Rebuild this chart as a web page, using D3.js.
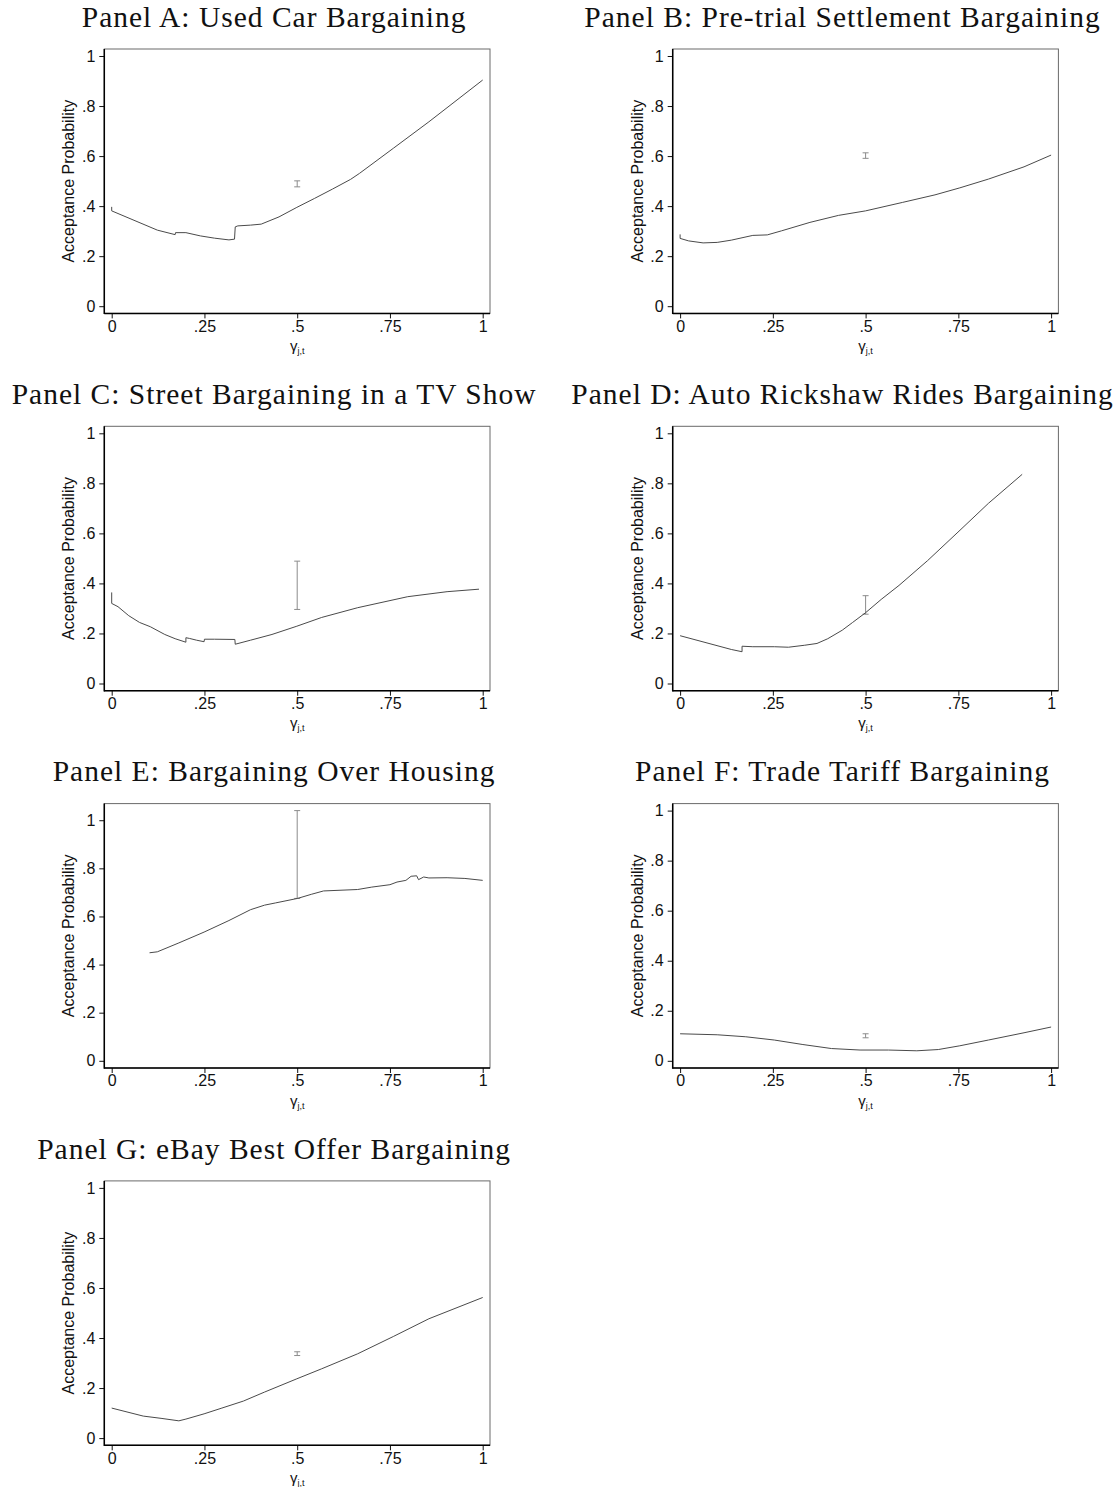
<!DOCTYPE html>
<html>
<head>
<meta charset="utf-8">
<script src="https://cdn.jsdelivr.net/npm/d3@7"></script>
<style>
  body { margin: 0; background: #fff; }
  svg { display: block; }
</style>
</head>
<body>
<div id="chart"></div>
<script>
// panel titles
const titles = [
    "Panel A: Used Car Bargaining",
    "Panel B: Pre-trial Settlement Bargaining",
    "Panel C: Street Bargaining in a TV Show",
    "Panel D: Auto Rickshaw Rides Bargaining",
    "Panel E: Bargaining Over Housing",
    "Panel F: Trade Tariff Bargaining",
    "Panel G: eBay Best Offer Bargaining"
];

const xTicks = [0, 0.25, 0.5, 0.75, 1];
const xTickLabels = ["0", ".25", ".5", ".75", "1"];
const yTicks = [0, 0.2, 0.4, 0.6, 0.8, 1];
const yTickLabels = ["0", ".2", ".4", ".6", ".8", "1"];

// observed acceptance rate at gamma = .5 (confidence interval)
const errX = [0.5, 0.5, 0.5, 0.5, 0.5, 0.5, 0.5];
const errLow = [0.477, 0.591, 0.296, 0.277, 0.675, 0.092, 0.330];
const errHigh = [0.501, 0.613, 0.489, 0.351, 1.040, 0.108, 0.345];

// predicted acceptance probability curves [gamma, prob]
const curveA = [[0,0.397],[0,0.381],[0.123,0.304],[0.171,0.286],[0.172,0.294],[0.2,0.294],
    [0.239,0.281],[0.277,0.272],[0.316,0.265],[0.331,0.268],[0.333,0.317],[0.34,0.321],
    [0.374,0.324],[0.403,0.328],[0.451,0.357],[0.499,0.395],[0.547,0.431],[0.595,0.468],
    [0.644,0.507],[0.668,0.531],[0.759,0.631],[0.855,0.737],[1,0.904]];
const curveB = [[0,0.287],[0,0.271],[0.023,0.261],[0.062,0.253],[0.1,0.255],[0.138,0.264],
    [0.196,0.283],[0.235,0.285],[0.273,0.301],[0.35,0.335],[0.427,0.363],[0.5,0.381],
    [0.6,0.415],[0.687,0.445],[0.754,0.473],[0.831,0.508],[0.927,0.557],[1,0.604]];
const curveC = [[0,0.364],[0,0.32],[0.017,0.307],[0.046,0.271],[0.075,0.244],[0.104,0.227],
    [0.143,0.196],[0.171,0.179],[0.2,0.165],[0.2,0.183],[0.21,0.18],[0.229,0.173],
    [0.249,0.167],[0.25,0.177],[0.277,0.177],[0.332,0.176],[0.333,0.157],[0.374,0.173],
    [0.432,0.196],[0.499,0.229],[0.566,0.264],[0.663,0.303],[0.798,0.347],[0.904,0.367],
    [0.99,0.377]];
const curveD = [[0,0.191],[0.138,0.136],[0.167,0.127],[0.167,0.149],[0.196,0.147],[0.254,0.147],
    [0.292,0.145],[0.336,0.153],[0.369,0.16],[0.398,0.179],[0.437,0.213],[0.465,0.244],
    [0.5,0.283],[0.542,0.336],[0.59,0.392],[0.667,0.491],[0.749,0.605],[0.831,0.72],
    [0.922,0.836]];
const curveE = [[0.102,0.449],[0.123,0.453],[0.181,0.49],[0.249,0.535],[0.316,0.583],
    [0.374,0.628],[0.412,0.647],[0.441,0.656],[0.501,0.675],[0.538,0.692],[0.571,0.706],
    [0.663,0.712],[0.701,0.722],[0.75,0.732],[0.769,0.743],[0.793,0.75],[0.807,0.767],
    [0.822,0.769],[0.827,0.753],[0.841,0.764],[0.855,0.76],[0.904,0.761],[0.952,0.758],
    [1,0.75]];
const curveF = [[0,0.108],[0.1,0.104],[0.177,0.096],[0.254,0.083],[0.331,0.065],[0.408,0.049],
    [0.485,0.043],[0.562,0.043],[0.638,0.04],[0.696,0.045],[0.754,0.06],[0.831,0.083],
    [0.927,0.112],[1,0.135]];
const curveG = [[0,0.12],[0.085,0.088],[0.133,0.079],[0.181,0.069],[0.2,0.076],[0.249,0.097],
    [0.297,0.12],[0.355,0.148],[0.412,0.184],[0.499,0.237],[0.566,0.277],[0.663,0.337],
    [0.759,0.406],[0.855,0.477],[1,0.562]];

const curves = [curveA, curveB, curveC, curveD, curveE, curveF, curveG];

const width = 1119, height = 1487;
const colLeft = [104.3, 672.7];
const rowTop = [49, 426.3, 803.6, 1180.9];
const boxW = 385.7, boxH = 264.4;

const svg = d3.select("#chart")
    .append("svg")
    .attr("width", width)
    .attr("height", height);

const line = d3.line()
    .x(d => d[0])
    .y(d => d[1]);

curves.forEach(function(curve, i) {
    const left = colLeft[i % 2];
    const top = rowTop[Math.floor(i / 2)];
    const right = left + boxW, bottom = top + boxH;
    const yMax = Math.max(1, errHigh[i]);

    const x = d3.scaleLinear().domain([0, 1]).range([left + 7.4, right - 7.3]);
    const y = d3.scaleLinear().domain([0, yMax]).range([bottom - 7.2, top + 7]);

    const g = svg.append("g");

    // title
    g.append("text")
        .attr("x", left + 169.8)
        .attr("y", top - 22.3)
        .attr("text-anchor", "middle")
        .style("font-family", "'Liberation Serif', 'Times New Roman', serif")
        .style("font-size", "29.5px")
        .style("letter-spacing", "1px")
        .attr("fill", "#111")
        .text(titles[i]);

    // plot region outline
    g.append("rect")
        .attr("x", left)
        .attr("y", top)
        .attr("width", boxW)
        .attr("height", boxH)
        .attr("fill", "none")
        .attr("stroke", "#6a6a6a")
        .attr("stroke-width", 1);

    // axes
    const yAxis = d3.axisLeft(y)
        .tickValues(yTicks)
        .tickFormat((d, k) => yTickLabels[k])
        .tickSize(5)
        .tickPadding(4);
    const ya = g.append("g")
        .attr("transform", `translate(${left},0)`)
        .call(yAxis);
    ya.select(".domain").remove();

    const xAxis = d3.axisBottom(x)
        .tickValues(xTicks)
        .tickFormat((d, k) => xTickLabels[k])
        .tickSize(5)
        .tickPadding(2);
    const xa = g.append("g")
        .attr("transform", `translate(0,${bottom})`)
        .call(xAxis);
    xa.select(".domain").remove();

    [ya, xa].forEach(function(a) {
        a.selectAll("text")
            .style("font-family", "'Liberation Sans', Arial, sans-serif")
            .style("font-size", "16px")
            .attr("fill", "#111");
        a.selectAll("line").attr("stroke", "#111").attr("stroke-width", 1);
    });

    g.append("line")
        .attr("x1", left).attr("x2", left)
        .attr("y1", top).attr("y2", bottom + 0.7)
        .attr("stroke", "#000").attr("stroke-width", 1.5);
    g.append("line")
        .attr("x1", left).attr("x2", right)
        .attr("y1", bottom).attr("y2", bottom)
        .attr("stroke", "#000").attr("stroke-width", 1.5);

    // axis titles
    g.append("text")
        .attr("transform", `translate(${left - 30},${(top + bottom) / 2}) rotate(-90)`)
        .attr("text-anchor", "middle")
        .style("font-family", "'Liberation Sans', Arial, sans-serif")
        .style("font-size", "16px")
        .attr("fill", "#111")
        .text("Acceptance Probability");

    const xt = g.append("text")
        .attr("x", x(0.5))
        .attr("y", bottom + 37.5)
        .attr("text-anchor", "middle")
        .style("font-family", "'Liberation Sans', Arial, sans-serif")
        .style("font-size", "15px")
        .attr("fill", "#111");
    xt.append("tspan").text("γ");
    xt.append("tspan")
        .attr("dy", 3)
        .style("font-size", "9px")
        .text("j,t");

    // error bar
    const ex = x(errX[i]);
    const eb = g.append("g")
        .attr("stroke", "#8c8c8c")
        .attr("stroke-width", 1);
    eb.append("line")
        .attr("x1", ex).attr("x2", ex)
        .attr("y1", y(errLow[i])).attr("y2", y(errHigh[i]));
    [errLow[i], errHigh[i]].forEach(function(v) {
        eb.append("line")
            .attr("x1", ex - 3).attr("x2", ex + 3)
            .attr("y1", y(v)).attr("y2", y(v));
    });

    // predicted curve
    g.append("path")
        .datum(curve.map(d => [x(d[0]), y(d[1])]))
        .attr("d", line)
        .attr("fill", "none")
        .attr("stroke", "#4a4a4a")
        .attr("stroke-width", 1);
});
</script>
</body>
</html>
